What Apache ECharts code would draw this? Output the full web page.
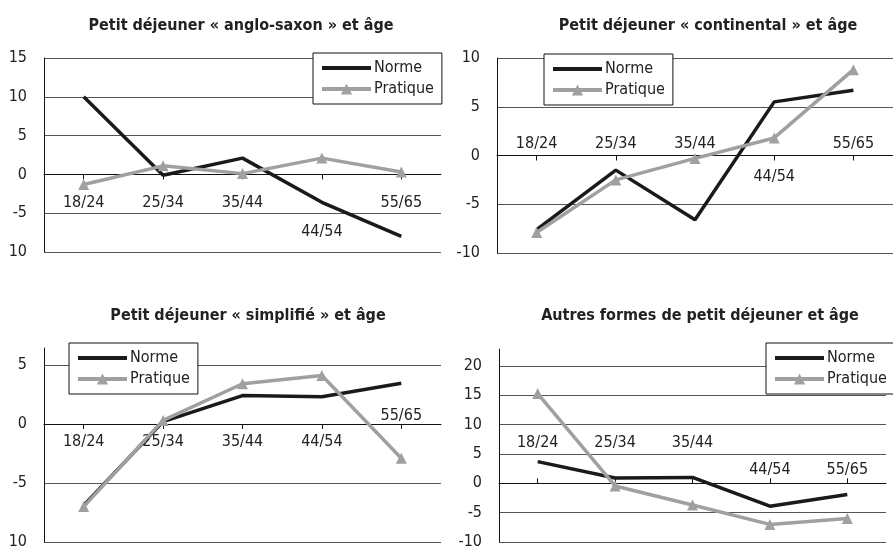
<!DOCTYPE html>
<html>
<head>
<meta charset="utf-8">
<title>Petit déjeuner et âge</title>
<script src="https://cdn.jsdelivr.net/npm/echarts@6/dist/echarts.min.js"></script>
<style>
  html, body { margin: 0; padding: 0; background: #fff; }
  #main { width: 893px; height: 552px; }
</style>
</head>
<body>
<div id="main"></div>
<script>
  // tranches d'âge
  const ages = ['18/24', '25/34', '35/44', '44/54', '55/65'];

  // écarts
  const angloNorme = [10, -0.1, 2.1, -3.6, -8.0];
  const angloPratique = [-1.3, 1.1, 0.1, 2.1, 0.3];
  const contNorme = [-7.6, -1.5, -6.6, 5.5, 6.7];
  const contPratique = [-7.9, -2.5, -0.3, 1.8, 8.8];
  const simplNorme = [-6.9, 0.2, 2.4, 2.3, 3.45];
  const simplPratique = [-7.0, 0.3, 3.4, 4.1, -2.9];
  const autresNorme = [3.7, 0.9, 1.0, -3.9, -1.9];
  const autresPratique = [15.3, -0.45, -3.7, -7.0, -6.0];

  // étiquettes de l'axe vertical (telles qu'imprimées)
  const angloTicks = ['10', '-5', '0', '5', '10', '15'];
  const contTicks = ['-10', '-5', '0', '5', '10'];
  const simplTicks = ['10', '-5', '0', '5'];
  const autresTicks = ['-10', '-5', '0', '5', '10', '15', '20'];

  const titres = [
    'Petit déjeuner « anglo-saxon » et âge',
    'Petit déjeuner « continental » et âge',
    'Petit déjeuner « simplifié » et âge',
    'Autres formes de petit déjeuner et âge'
  ];

  const font = "'Liberation Sans Narrow', 'DejaVu Sans Condensed', 'Open Sans', sans-serif";
  const noir = '#1a1a1a';
  const gris = '#a0a0a0';

  // les étiquettes de catégorie sont posées depuis le bas de la grille,
  // on les remonte de p pixels (bas du texte)
  function up(p) { return {verticalAlign: 'bottom', padding: [0, 0, p, 0]}; }

  const labelPlaces = [
    [up(41), up(41), up(41), up(12), up(41)],
    [up(101), up(101), up(101), up(68), up(101)],
    [up(92), up(92), up(92), up(92), up(118)],
    [up(91), up(91), up(91), up(64), up(64)]
  ];

  const grids = [
    {left: 44, top: 58, width: 397, height: 194},
    {left: 497, top: 58, width: 396, height: 195},
    {left: 44, top: 348, width: 397, height: 194},
    {left: 499, top: 349, width: 387, height: 193}
  ];

  const yRanges = [[-10, 15], [-10, 10], [-10, 6.43], [-10, 22.9]];
  const yTicks = [angloTicks, contTicks, simplTicks, autresTicks];
  const normes = [angloNorme, contNorme, simplNorme, autresNorme];
  const pratiques = [angloPratique, contPratique, simplPratique, autresPratique];

  const titleX = [241, 708, 248, 700];
  const titleY = [18, 18, 308, 308];
  const legendPos = [[313, 53], [544, 54], [69, 343], [766, 343]];

  let xAxes = [], yAxes = [], series = [], titles = [], legends = [];

  for (let i = 0; i < 4; i++) {
    const ticks = yTicks[i];
    const min = yRanges[i][0];
    xAxes.push({
      type: 'category',
      gridIndex: i,
      data: ages.map((a, k) => ({value: a, textStyle: labelPlaces[i][k]})),
      boundaryGap: true,
      axisLine: {onZero: true, lineStyle: {color: '#111', width: 1}},
      axisTick: {show: true, alignWithLabel: true, length: 5, inside: i === 3, lineStyle: {color: '#111'}},
      axisLabel: {interval: 0, margin: 0, color: '#222', fontSize: 16, fontFamily: font},
      splitLine: {show: false}
    });
    yAxes.push({
      type: 'value',
      gridIndex: i,
      min: min,
      max: yRanges[i][1],
      interval: 5,
      axisLine: {show: true, lineStyle: {color: '#111', width: 1}},
      axisTick: {show: false},
      axisLabel: {
        margin: 17,
        color: '#222',
        fontSize: 16,
        fontFamily: font,
        showMaxLabel: i < 2,
        formatter: function (v) {
          const k = Math.round((v - min) / 5);
          if (Math.abs(v - (min + k * 5)) > 0.01) return '';
          return ticks[k] || '';
        }
      },
      splitLine: {show: true, showMinLine: true, showMaxLine: i < 2, lineStyle: {color: '#555', width: 1}}
    });
    series.push({
      name: 'Norme',
      type: 'line',
      xAxisIndex: i,
      yAxisIndex: i,
      data: normes[i],
      symbol: 'none',
      lineStyle: {color: noir, width: 3.5},
      itemStyle: {color: noir}
    });
    series.push({
      name: 'Pratique',
      type: 'line',
      xAxisIndex: i,
      yAxisIndex: i,
      data: pratiques[i],
      symbol: 'triangle',
      symbolSize: 11,
      lineStyle: {color: gris, width: 3.5},
      itemStyle: {color: gris}
    });
    titles.push({
      text: titres[i],
      left: titleX[i],
      top: titleY[i],
      textAlign: 'center',
      padding: 0,
      textStyle: {fontSize: 16, fontWeight: 'bold', color: '#222', fontFamily: font}
    });
    legends.push({
      data: [
        {name: 'Norme', itemStyle: {opacity: 0}, lineStyle: {width: 4, color: noir}},
        {name: 'Pratique', lineStyle: {width: 4, color: gris}}
      ],
      orient: 'vertical',
      left: legendPos[i][0],
      top: legendPos[i][1],
      itemWidth: 49,
      itemHeight: 14,
      itemGap: 5,
      padding: [7, 8, 7, 7],
      borderColor: '#111',
      borderWidth: 1,
      backgroundColor: '#fff',
      selectedMode: false,
      textStyle: {fontSize: 16, lineHeight: 16, color: '#222', fontFamily: font, padding: [0, 0, 0, -2]}
    });
  }

  const chart = echarts.init(document.getElementById('main'));
  chart.setOption({
    animation: false,
    backgroundColor: '#fff',
    title: titles,
    legend: legends,
    grid: grids,
    xAxis: xAxes,
    yAxis: yAxes,
    series: series
  });
</script>
</body>
</html>
